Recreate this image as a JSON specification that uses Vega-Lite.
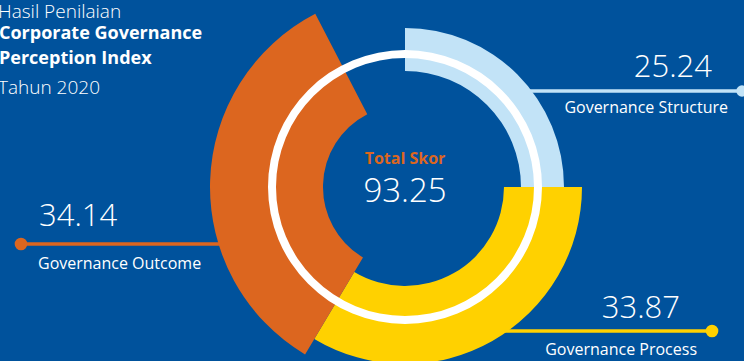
{
  "$schema": "https://vega.github.io/schema/vega-lite/v6.json",
  "width": 678,
  "height": 348,
  "autosize": {"type": "none"},
  "padding": {"left": 66, "top": 13, "right": 0, "bottom": 0},
  "background": "#00529c",
  "config": {"view": {"stroke": null}, "font": "Open Sans", "text": {"baseline": "alphabetic"}},
  "data": {
    "values": [
      {"name": "Governance Structure", "value": 25.24, "rank": 1},
      {"name": "Governance Process", "value": 33.87, "rank": 2},
      {"name": "Governance Outcome", "value": 34.14, "rank": 3}
    ]
  },
  "transform": [
    {"stack": "value", "groupby": [], "sort": [{"field": "rank", "order": "ascending"}], "as": ["v0", "v1"]}
  ],
  "layer": [
    {
      "transform": [{"filter": "datum.name === 'Governance Structure'"}],
      "mark": {"type": "rule", "strokeWidth": 3.5, "color": "#c2e3f7"},
      "encoding": {"x": {"value": 454}, "x2": {"value": 676}, "y": {"value": 78}}
    },
    {
      "transform": [{"filter": "datum.name === 'Governance Process'"}],
      "mark": {"type": "rule", "strokeWidth": 3.5, "color": "#ffd100"},
      "encoding": {"x": {"value": 414}, "x2": {"value": 646}, "y": {"value": 318}}
    },
    {
      "transform": [{"filter": "datum.name === 'Governance Outcome'"}],
      "mark": {"type": "rule", "strokeWidth": 3.5, "color": "#dc661f"},
      "encoding": {"x": {"value": -45}, "x2": {"value": 234}, "y": {"value": 231}}
    },
    {
      "transform": [{"filter": "datum.name === 'Governance Structure'"}],
      "mark": {"type": "point", "filled": true, "opacity": 1, "size": 130, "x": 676, "y": 78, "color": "#c2e3f7"},
      "encoding": {}
    },
    {
      "transform": [{"filter": "datum.name === 'Governance Process'"}],
      "mark": {"type": "point", "filled": true, "opacity": 1, "size": 160, "x": 646, "y": 318, "color": "#ffd100"},
      "encoding": {}
    },
    {
      "transform": [{"filter": "datum.name === 'Governance Outcome'"}],
      "mark": {"type": "point", "filled": true, "opacity": 1, "size": 160, "x": -45, "y": 231, "color": "#dc661f"},
      "encoding": {}
    },
    {
      "transform": [{"filter": "datum.name === 'Governance Structure'"}],
      "mark": {"type": "arc", "radius": 159, "radius2": 116},
      "encoding": {
        "theta": {"field": "v0", "type": "quantitative", "scale": {"domain": [0, 93.25], "range": [0, 5.805]}},
        "theta2": {"field": "v1"},
        "color": {"field": "name", "type": "nominal", "scale": {"domain": ["Governance Structure", "Governance Process", "Governance Outcome"], "range": ["#c2e3f7", "#ffd100", "#dc661f"]}, "legend": null}
      }
    },
    {
      "transform": [{"filter": "datum.name === 'Governance Process'"}],
      "mark": {"type": "arc", "radius": 177, "radius2": 99},
      "encoding": {
        "theta": {"field": "v0", "type": "quantitative"},
        "theta2": {"field": "v1"},
        "color": {"field": "name", "type": "nominal", "legend": null}
      }
    },
    {
      "transform": [{"filter": "datum.name === 'Governance Outcome'"}],
      "mark": {"type": "arc", "radius": 195, "radius2": 82},
      "encoding": {
        "theta": {"field": "v0", "type": "quantitative"},
        "theta2": {"field": "v1"},
        "color": {"field": "name", "type": "nominal", "legend": null}
      }
    },
    {
      "transform": [{"aggregate": [{"op": "sum", "field": "value", "as": "total"}]}],
      "mark": {"type": "arc", "radius": 137, "radius2": 129, "theta": 0, "theta2": 6.2832, "color": "#ffffff"},
      "encoding": {}
    },
    {
      "transform": [{"aggregate": [{"op": "sum", "field": "value", "as": "total"}]}],
      "mark": {"type": "text", "x": 339, "y": 151, "align": "center", "fontSize": 16, "fontWeight": "bold", "color": "#dc661f", "text": "Total Skor"},
      "encoding": {}
    },
    {
      "transform": [{"aggregate": [{"op": "sum", "field": "value", "as": "total"}]}],
      "mark": {"type": "text", "x": 339, "y": 189, "align": "center", "fontSize": 33, "fontWeight": 300, "color": "#ffffff"},
      "encoding": {"text": {"field": "total", "type": "quantitative", "format": ".2f"}}
    },
    {
      "transform": [{"filter": "datum.name === 'Governance Structure'"}],
      "mark": {"type": "text", "x": 646, "y": 64, "align": "right", "fontSize": 31, "fontWeight": 300, "color": "#ffffff"},
      "encoding": {"text": {"field": "value", "type": "quantitative", "format": ".2f"}}
    },
    {
      "transform": [{"filter": "datum.name === 'Governance Structure'"}],
      "mark": {"type": "text", "x": 662, "y": 100, "align": "right", "fontSize": 16, "color": "#ffffff"},
      "encoding": {"text": {"field": "name"}}
    },
    {
      "transform": [{"filter": "datum.name === 'Governance Process'"}],
      "mark": {"type": "text", "x": 614, "y": 305, "align": "right", "fontSize": 31, "fontWeight": 300, "color": "#ffffff"},
      "encoding": {"text": {"field": "value", "type": "quantitative", "format": ".2f"}}
    },
    {
      "transform": [{"filter": "datum.name === 'Governance Process'"}],
      "mark": {"type": "text", "x": 631, "y": 342, "align": "right", "fontSize": 16, "color": "#ffffff"},
      "encoding": {"text": {"field": "name"}}
    },
    {
      "transform": [{"filter": "datum.name === 'Governance Outcome'"}],
      "mark": {"type": "text", "x": -27, "y": 213, "align": "left", "fontSize": 31, "fontWeight": 300, "color": "#ffffff"},
      "encoding": {"text": {"field": "value", "type": "quantitative", "format": ".2f"}}
    },
    {
      "transform": [{"filter": "datum.name === 'Governance Outcome'"}],
      "mark": {"type": "text", "x": -28, "y": 256, "align": "left", "fontSize": 16, "color": "#ffffff"},
      "encoding": {"text": {"field": "name"}}
    },
    {
      "transform": [{"aggregate": [{"op": "sum", "field": "value", "as": "total"}]}],
      "mark": {"type": "text", "x": -68, "y": 5, "align": "left", "fontSize": 19, "fontWeight": 300, "color": "#ffffff", "text": "Hasil Penilaian"},
      "encoding": {}
    },
    {
      "transform": [{"aggregate": [{"op": "sum", "field": "value", "as": "total"}]}],
      "mark": {"type": "text", "x": -67, "y": 26, "align": "left", "fontSize": 18, "fontWeight": "bold", "color": "#ffffff", "lineHeight": 25, "text": ["Corporate Governance", "Perception Index"]},
      "encoding": {}
    },
    {
      "transform": [{"aggregate": [{"op": "sum", "field": "value", "as": "total"}]}],
      "mark": {"type": "text", "x": -68, "y": 81, "align": "left", "fontSize": 19, "fontWeight": 300, "color": "#ffffff", "text": "Tahun 2020"},
      "encoding": {}
    }
  ]
}
